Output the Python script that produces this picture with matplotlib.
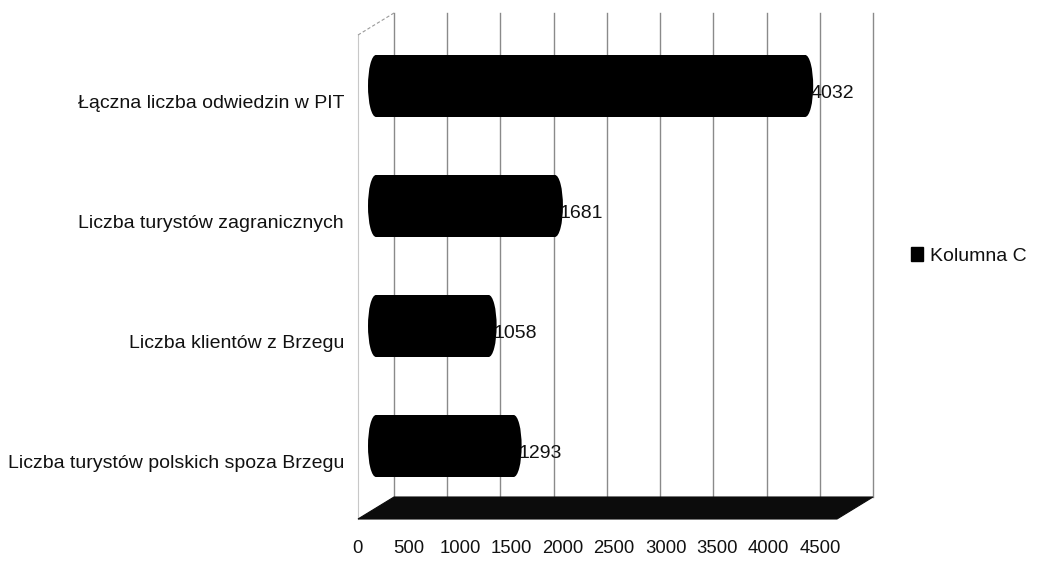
import matplotlib
matplotlib.use("Agg")
import matplotlib.pyplot as plt
from matplotlib import font_manager
from matplotlib.patches import Rectangle, Ellipse, Polygon, Patch
from matplotlib.transforms import ScaledTranslation, IdentityTransform

# ---- data ----
categories = [
    "Liczba turystów polskich spoza Brzegu",
    "Liczba klientów z Brzegu",
    "Liczba turystów zagranicznych",
    "Łączna liczba odwiedzin w PIT",
]
values = [1293, 1058, 1681, 4032]
xticks = [0, 500, 1000, 1500, 2000, 2500, 3000, 3500, 4000, 4500]
series_name = "Kolumna C"

# ---- fonts ----
names = {f.name for f in font_manager.fontManager.ttflist}
if "Liberation Sans Narrow" in names:
    fam, fs, fs_x = "Liberation Sans Narrow", 16, 16
else:
    fam, fs, fs_x = "Liberation Sans", 14, 13.3
plt.rcParams["font.family"] = [fam, "DejaVu Sans"]
txt_color = "#111111"

W, H = 1045, 565
fig = plt.figure(figsize=(W / 100, H / 100), dpi=100)


def px(x0, y0, x1, y1):
    return [x0 / W, 1 - y1 / H, (x1 - x0) / W, (y1 - y0) / H]


# front plane axes
ax = fig.add_axes(px(358, 35, 837, 519))
ax.set_xlim(0, 4500)
y0, y1 = -0.475, 3.558
ax.set_ylim(y0, y1)
ax.patch.set_visible(False)
for s in ax.spines.values():
    s.set_visible(False)
ax.set_xticks([])
ax.set_yticks(range(len(categories)))
ax.set_yticklabels(categories, fontsize=fs, color=txt_color)
ax.tick_params(axis="y", length=0, pad=10)

dpi_t = fig.dpi_scale_trans
back = ax.transData + ScaledTranslation(36 / 100, 22 / 100, dpi_t)
mid = ax.transData + ScaledTranslation(18 / 100, 16 / 100, dpi_t)

# back wall gridlines
for t in xticks:
    ax.plot([t, t], [y0, y1], transform=back, color="#8a8a8a", lw=1.0,
            clip_on=False, zorder=1)

# left wall edges
ax.plot([0, 0], [y0, y1], color="#c8c8c8", lw=0.8, clip_on=False, zorder=1)
pf = ax.transData.transform((0, y1))
pb = back.transform((0, y1))
ax.add_line(plt.Line2D([pf[0], pb[0]], [pf[1], pb[1]], transform=IdentityTransform(),
                       color="#9a9a9a", lw=0.8, ls=(0, (3, 2)), clip_on=False, zorder=1))

# floor
corners = [ax.transData.transform((0, y0)), ax.transData.transform((4500, y0)),
           back.transform((4500, y0)), back.transform((0, y0))]
ax.add_patch(Polygon(corners, closed=True, transform=IdentityTransform(),
                     facecolor="#0c0c0c", edgecolor="#0c0c0c", lw=0.8,
                     clip_on=False, zorder=2))

# cylinders
bar_h = 62 / 120
cap_w = 16 * 4500 / 479
for i, v in enumerate(values):
    ax.add_patch(Rectangle((0, i - bar_h / 2), v, bar_h, transform=mid,
                           facecolor="black", edgecolor="none", clip_on=False, zorder=3))
    for xc in (0, v):
        ax.add_patch(Ellipse((xc, i), cap_w, bar_h, transform=mid,
                             facecolor="black", edgecolor="none", clip_on=False, zorder=3))

# value labels
lab_t = ax.transData + ScaledTranslation((18 - 3) / 100, (16 - 8) / 100, dpi_t)
for i, v in enumerate(values):
    ax.text(v + cap_w / 2, i, str(v), transform=lab_t, ha="left", va="center",
            fontsize=fs, color=txt_color, zorder=4, clip_on=False)

# x tick labels (front scale)
ax2 = fig.add_axes(px(357, 536, 820, 537))
ax2.set_xlim(0, 4500)
ax2.patch.set_visible(False)
for s in ax2.spines.values():
    s.set_visible(False)
ax2.set_yticks([])
ax2.set_xticks(xticks)
ax2.set_xticklabels([str(t) for t in xticks], fontsize=fs_x, color=txt_color)
ax2.tick_params(axis="x", length=0, pad=2)

# legend
fig.legend(handles=[Patch(facecolor="black", edgecolor="black", label=series_name)],
           loc="center left", bbox_to_anchor=(911 / W, 1 - 256 / H), frameon=False,
           handlelength=0.6, handleheight=0.75, handletextpad=0.4, borderpad=0,
           borderaxespad=0, fontsize=fs, labelcolor=txt_color)

fig.savefig("out.png", dpi=100)
